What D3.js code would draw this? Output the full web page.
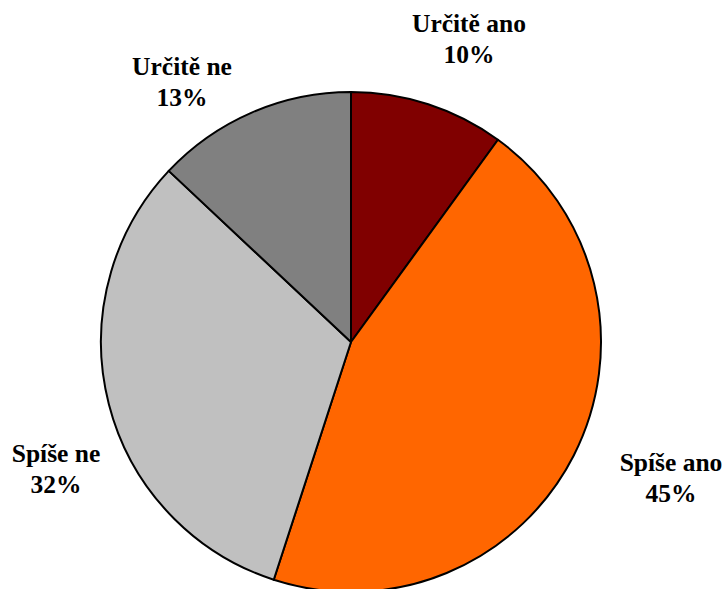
<!DOCTYPE html>
<html>
<head>
<meta charset="utf-8">
<script src="https://cdn.jsdelivr.net/npm/d3@7"></script>
<style>
  body { margin: 0; background: #fff; }
  svg { display: block; }
</style>
</head>
<body>
<div id="chart"></div>
<script>
/* data */
var categories = ["Určitě ano", "Spíše ano", "Spíše ne", "Určitě ne"];
var values = [10, 45, 32, 13];
var colors = ["#800000", "#FF6600", "#C0C0C0", "#808080"];

/* label anchor points (text layout, not marks) */
var labelX = [469, 671, 56, 182];
var labelY = [32, 471, 462, 75];

var w = 725, h = 589;
var cx = 351, cy = 342, radius = 250;

var svg = d3.select("#chart").append("svg").attr("width", w).attr("height", h);

var pie = d3.pie().sort(null).value(d => d)(values);
var arc = d3.arc().innerRadius(0).outerRadius(radius);

var g = svg.append("g").attr("transform", "translate(" + cx + "," + cy + ")");

g.selectAll("path").data(pie).enter()
  .append("path")
  .attr("d", arc)
  .attr("fill", (d, i) => colors[i])
  .attr("stroke", "#000")
  .attr("stroke-width", 2)
  .attr("stroke-linejoin", "round");

var labels = svg.selectAll("text.lbl").data(categories).enter()
  .append("text")
  .attr("class", "lbl")
  .style("font-family", "'Liberation Serif', 'Times New Roman', serif")
  .style("font-weight", "bold")
  .style("font-size", "25.5px")
  .attr("text-anchor", "middle")
  .attr("x", (d, i) => labelX[i])
  .attr("y", (d, i) => labelY[i]);

labels.append("tspan").text(d => d);
labels.append("tspan")
  .attr("x", (d, i) => labelX[i])
  .attr("dy", 31)
  .text((d, i) => values[i] + "%");
</script>
</body>
</html>
